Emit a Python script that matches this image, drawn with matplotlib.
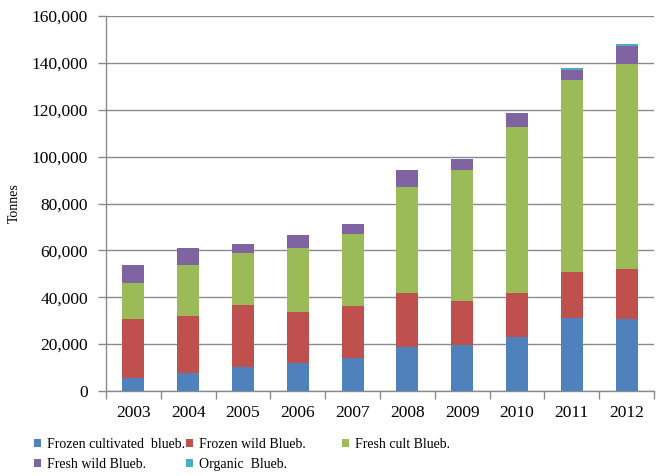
import matplotlib
matplotlib.use("Agg")
import matplotlib.pyplot as plt
from matplotlib.patches import Patch
from matplotlib.ticker import FuncFormatter, FixedLocator
import numpy as np

years = ["2003", "2004", "2005", "2006", "2007", "2008", "2009", "2010", "2011", "2012"]
frozen_cultivated = [5700, 7800, 10400, 11800, 14200, 18800, 19500, 23200, 31000, 30600]
frozen_wild = [24900, 24200, 26400, 21700, 22100, 23000, 18900, 18600, 19600, 21300]
fresh_cult = [15600, 21800, 22000, 27500, 30900, 45300, 56000, 70900, 82200, 87700]
fresh_wild = [7600, 7300, 4000, 5400, 4000, 7000, 4400, 6000, 4200, 7700]
organic = [0, 0, 0, 0, 0, 0, 0, 0, 700, 600]

series = [
    ("Frozen cultivated  blueb.", frozen_cultivated, "#4F81BD"),
    ("Frozen wild Blueb.", frozen_wild, "#C0504D"),
    ("Fresh cult Blueb.", fresh_cult, "#9BBB59"),
    ("Fresh wild Blueb.", fresh_wild, "#8064A2"),
    ("Organic  Blueb.", organic, "#4BACC6"),
]

SERIF = ["Liberation Serif", "DejaVu Serif"]
plt.rcParams["font.family"] = SERIF

fig = plt.figure(figsize=(6.62, 4.76), dpi=100)
ax = fig.add_axes([106 / 662, 1 - 391 / 476, 548 / 662, 375 / 476])

x = np.arange(len(years))
bottom = np.zeros(len(years))
for name, vals, color in series:
    v = np.array(vals, dtype=float)
    ax.bar(x, v, width=0.4, bottom=bottom, color=color, edgecolor="none", zorder=3)
    bottom += v

ax.set_xlim(-0.5, len(years) - 0.5)
ax.set_ylim(0, 160000)
ax.set_yticks(np.arange(0, 160001, 20000))
ax.yaxis.set_major_formatter(FuncFormatter(lambda v, p: f"{int(v):,}"))
ax.grid(axis="y", color="#8a8a8a", linewidth=1.0, zorder=0)
ax.set_axisbelow(True)

ax.set_xticks(x)
ax.set_xticklabels(years)
ax.xaxis.set_minor_locator(FixedLocator(np.arange(-0.5, len(years), 1.0)))
ax.tick_params(axis="x", which="major", length=0, pad=10, labelsize=12.5)
ax.tick_params(axis="x", which="minor", length=6, color="#8a8a8a", width=1)
ax.tick_params(axis="y", length=6, color="#8a8a8a", width=1, pad=7, labelsize=12.5)

for s in ["top", "right"]:
    ax.spines[s].set_visible(False)
for s in ["left", "bottom"]:
    ax.spines[s].set_color("#8a8a8a")
    ax.spines[s].set_linewidth(1)

ax.set_ylabel("Tonnes", fontsize=10, labelpad=8)

# legend laid out in three columns beneath the plot
columns = [[0, 3], [1, 4], [2]]
col_x = [34 / 662, 186 / 662, 342 / 662]
for cx, idxs in zip(col_x, columns):
    handles = [Patch(facecolor=series[i][2], edgecolor="none", label=series[i][0]) for i in idxs]
    fig.legend(handles=handles, loc="upper left", bbox_to_anchor=(cx, 1 - 438 / 476),
               frameon=False, prop={"family": SERIF, "size": 10},
               handlelength=0.5, handleheight=0.5,
               handletextpad=0.45, labelspacing=0.5, borderaxespad=0, borderpad=0)

fig.savefig("out.png", dpi=100)
